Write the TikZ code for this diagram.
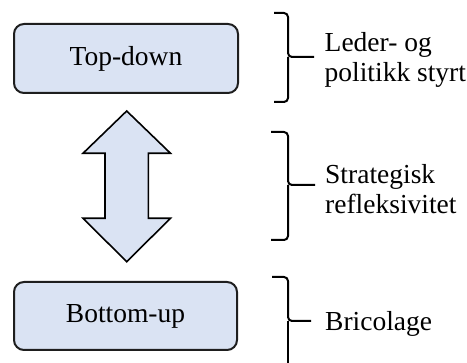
\documentclass[tikz,border=0pt]{standalone}
\usepackage{fontspec}
\setmainfont{Liberation Serif}
\definecolor{boxfill}{HTML}{DAE3F3}
\definecolor{boxline}{HTML}{1E1E1E}
\begin{document}
\begin{tikzpicture}[x=1pt,y=-1pt,
  every node/.style={font=\fontsize{27.5}{30.5}\selectfont},
  levelbox/.style={draw=boxline, line width=2pt, fill=boxfill, rounded corners=10pt,
    inner sep=0pt},
  label/.style={anchor=west, align=left, inner sep=0pt},
  bracepath/.style={draw=black, line width=2pt, rounded corners=4pt},
  bigarrow/.style={draw=black, line width=1.6pt, fill=boxfill, line join=miter}]
\useasboundingbox (0,0) rectangle (467,363);

% level boxes
\node[levelbox, minimum width=224pt, minimum height=69pt] (top) at (126,58.5) {Top-down};
\node[levelbox, minimum width=223pt, minimum height=68pt] (bottom) at (125.5,316) {Bottom-up};

% double-headed arrow between the levels
\path[bigarrow] (126.7,111) -- (170.5,153.3) -- (148.3,153.3) -- (148.3,218.3)
  -- (170.5,218.3) -- (126.7,261.7) -- (83,218.3) -- (105,218.3)
  -- (105,153.3) -- (83,153.3) -- cycle;

% braces on the right
\coordinate (b1) at (288,57);
\draw[bracepath] (274,13) -| (b1) -- (314,57);
\draw[bracepath] (274,102) -| (b1);
\coordinate (b2) at (288,185);
\draw[bracepath] (271,132) -| (b2) -- (315,185);
\draw[bracepath] (271,240) -| (b2);
\coordinate (b3) at (288,321);
\draw[bracepath] (272,277) -| (b3) -- (311,321);
\draw[bracepath] (288,375) -- (b3);

% labels
\node[label] (l1) at (324.5,60) {Leder- og\\politikk styrt};
\node[label] (l2) at (325,189) {Strategisk\\refleksivitet};
\node[label] (l3) at (325,324) {Bricolage};
\end{tikzpicture}
\end{document}
